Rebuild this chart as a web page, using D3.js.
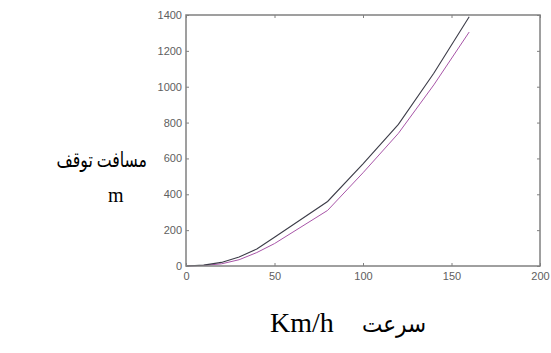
<!DOCTYPE html>
<html><head><meta charset="utf-8">
<script src="https://cdn.jsdelivr.net/npm/d3@7"></script>
<style>body{margin:0;background:#fff}svg{display:block}</style>
</head><body>
<script>
const speeds = [0, 10, 20, 30, 40, 50, 80, 100, 120, 140, 160];
const stopDark = [0, 5, 20, 50, 95, 160, 360, 570, 790, 1075, 1390];
const stopPurple = [0, 3, 12, 35, 75, 125, 310, 520, 740, 1010, 1305];
const xTicks = [0, 50, 100, 150, 200];
const yTicks = [0, 200, 400, 600, 800, 1000, 1200, 1400];
const yTitle = "مسافت توقف";
const yUnit = "m";
const xTitle = "سرعت";
const xUnit = "Km/h";

const W = 551, H = 353;
const m = {l: 186, r: 540, t: 15, b: 266};
const svg = d3.select("body").append("svg").attr("width", W).attr("height", H);
const x = d3.scaleLinear().domain([0, 200]).range([m.l, m.r]);
const y = d3.scaleLinear().domain([0, 1400]).range([m.b, m.t]);
const axisCol = "#808080", labCol = "#606060";

const line = d3.line().x(d => x(d[0])).y(d => y(d[1]));
svg.append("path").datum(speeds.map((s, i) => [s, stopPurple[i]]))
  .attr("d", line).attr("fill", "none").attr("stroke", "#a855a8").attr("stroke-width", 1);
svg.append("path").datum(speeds.map((s, i) => [s, stopDark[i]]))
  .attr("d", line).attr("fill", "none").attr("stroke", "#3c3c48").attr("stroke-width", 1.1);

function styleAxis(g, noText) {
  g.select(".domain").remove();
  g.selectAll(".tick line").attr("stroke", axisCol).attr("stroke-width", 1);
  g.selectAll(".tick text").attr("fill", labCol).style("font-family", "Liberation Sans, Arial, sans-serif").style("font-size", "11px");
  if (noText) g.selectAll(".tick text").remove();
}
svg.append("g").attr("transform", `translate(0,${m.b})`)
  .call(d3.axisBottom(x).tickValues(xTicks).tickSize(-3).tickPadding(6).tickFormat(d3.format("d")))
  .call(g => styleAxis(g));
svg.append("g").attr("transform", `translate(0,${m.t})`)
  .call(d3.axisTop(x).tickValues(xTicks).tickSize(-3))
  .call(g => styleAxis(g, true));
svg.append("g").attr("transform", `translate(${m.l},0)`)
  .call(d3.axisLeft(y).tickValues(yTicks).tickSize(-3).tickPadding(4).tickFormat(d3.format("d")))
  .call(g => styleAxis(g));
svg.append("g").attr("transform", `translate(${m.r},0)`)
  .call(d3.axisRight(y).tickValues(yTicks).tickSize(-3))
  .call(g => styleAxis(g, true));

svg.append("rect").attr("x", m.l).attr("y", m.t).attr("width", m.r - m.l).attr("height", m.b - m.t)
  .attr("fill", "none").attr("stroke", axisCol).attr("stroke-width", 1.5);

const serif = "Liberation Serif, Times New Roman, DejaVu Sans, serif";
svg.append("g").attr("transform", "translate(147,167) scale(0.75,1)")
  .append("text").attr("x", 0).attr("y", 0).attr("text-anchor", "end")
  .style("font-family", serif).style("font-size", "21px").attr("fill", "#000").text(yTitle);
svg.append("text").attr("x", 108).attr("y", 202).attr("text-anchor", "start")
  .style("font-family", serif).style("font-size", "20px").attr("fill", "#000").text(yUnit);
svg.append("text").attr("x", 270).attr("y", 332).attr("text-anchor", "start")
  .style("font-family", serif).style("font-size", "28px").attr("fill", "#000").text(xUnit);
svg.append("g").attr("transform", "translate(362,332) scale(0.9,1)")
  .append("text").attr("x", 0).attr("y", 0).attr("text-anchor", "start")
  .style("font-family", serif).style("font-size", "24px").attr("fill", "#000").text(xTitle);
</script>
</body></html>
